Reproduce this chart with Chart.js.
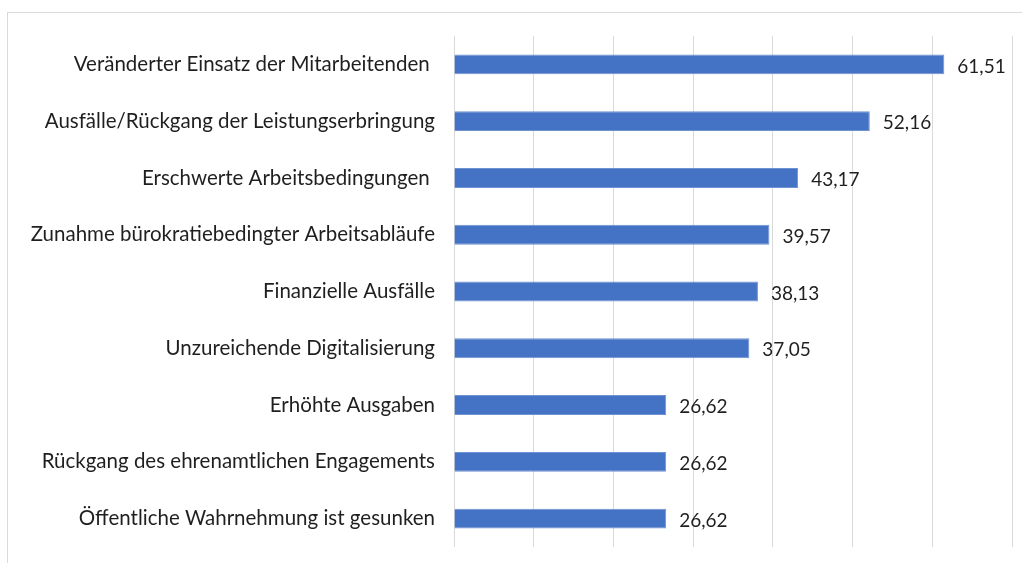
<!DOCTYPE html>
<html><head><meta charset="utf-8">
<script src="https://cdn.jsdelivr.net/npm/chart.js@4/dist/chart.umd.min.js"></script>
<style>
html,body{margin:0;padding:0;background:#fff;overflow:hidden}
#frame{position:absolute;left:7px;top:12px;width:1100px;height:700px;border:1px solid #d9d9d9;box-sizing:border-box}
#wrap{position:absolute;left:0;top:0;width:1022px;height:563px}
</style></head><body>
<div id="frame"></div>
<div id="wrap"><canvas id="c"></canvas></div>
<script>
const categories = [
  "Veränderter Einsatz der Mitarbeitenden ",
  "Ausfälle/Rückgang der Leistungserbringung",
  "Erschwerte Arbeitsbedingungen ",
  "Zunahme bürokratiebedingter Arbeitsabläufe",
  "Finanzielle Ausfälle",
  "Unzureichende Digitalisierung",
  "Erhöhte Ausgaben",
  "Rückgang des ehrenamtlichen Engagements",
  "Öffentliche Wahrnehmung ist gesunken"
];
const values = [61.51, 52.16, 43.17, 39.57, 38.13, 37.05, 26.62, 26.62, 26.62];
const FONT = "Lato, 'Liberation Sans', sans-serif";

const valueLabels = {
  id: 'valueLabels',
  afterDatasetsDraw(chart) {
    const ctx = chart.ctx;
    const meta = chart.getDatasetMeta(0);
    ctx.save();
    ctx.font = "19px " + FONT;
    ctx.fillStyle = "#1f1f1f";
    ctx.textAlign = "left";
    ctx.textBaseline = "middle";
    meta.data.forEach((bar, i) => {
      const txt = values[i].toFixed(2).replace('.', ',');
      ctx.fillText(txt, bar.x + 13, bar.y + 2);
    });
    ctx.restore();
  }
};

new Chart(document.getElementById('c'), {
  type: 'bar',
  data: {
    labels: categories,
    datasets: [{
      data: values,
      backgroundColor: '#4472C4',
      borderColor: '#6f92d2',
      borderWidth: 1,
      categoryPercentage: 1,
      barPercentage: 0.35
    }]
  },
  options: {
    indexAxis: 'y',
    responsive: true,
    maintainAspectRatio: false,
    animation: false,
    layout: { padding: { top: 36, bottom: 16, right: 10, left: 0 } },
    plugins: { legend: { display: false }, tooltip: { enabled: false } },
    scales: {
      x: {
        min: 0, max: 70,
        ticks: { display: false, stepSize: 10 },
        grid: { color: '#d9d9d9', lineWidth: 1, drawTicks: false },
        border: { display: false },
        afterFit(s) { s.height = 0; }
      },
      y: {
        grid: { display: false, drawTicks: false },
        border: { display: false },
        ticks: { font: { family: FONT, size: 20.5 }, color: '#1f1f1f', padding: 19 },
        afterFit(s) { s.width = 454; s.paddingTop = 0; s.paddingBottom = 0; }
      }
    }
  },
  plugins: [valueLabels]
});
</script>
</body></html>
